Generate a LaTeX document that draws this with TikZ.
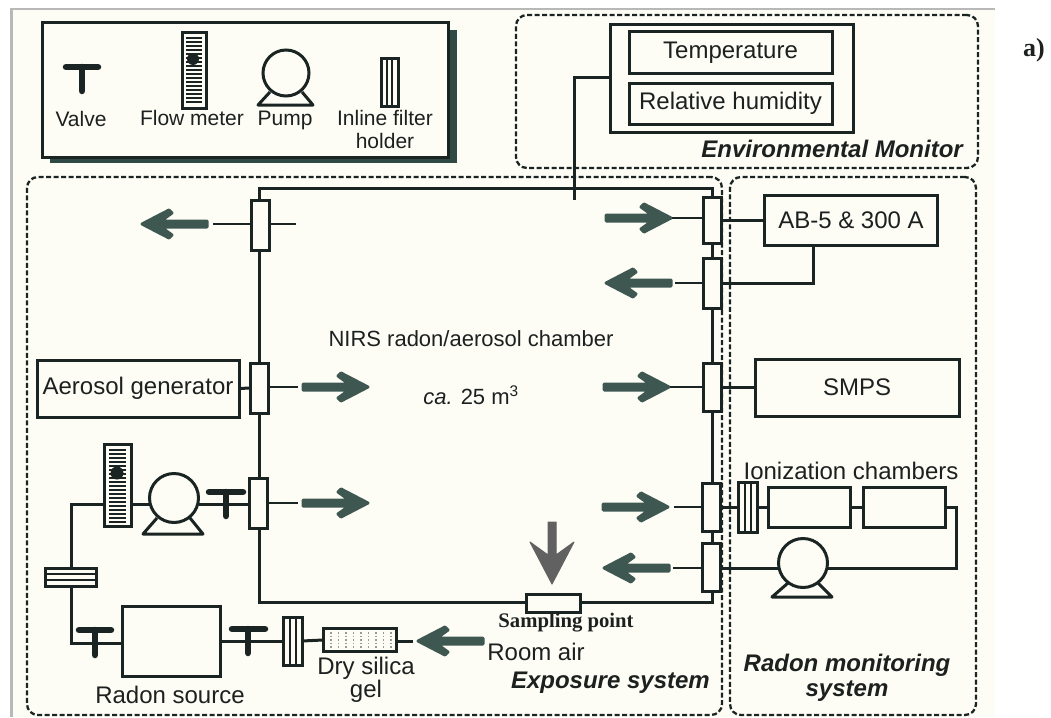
\documentclass[tikz,border=0pt]{standalone}
\usepackage{fontspec}
\setmainfont{Liberation Sans}
\newfontfamily\serifbold{Liberation Serif}[BoldFont={Liberation Serif Bold}]
\usetikzlibrary{calc}
\definecolor{ink}{HTML}{1A2422}
\definecolor{txt}{HTML}{1C201F}
\definecolor{paper}{HTML}{FDFDF6}
\definecolor{arrowc}{HTML}{3E5751}
\definecolor{shadowc}{HTML}{2F4A44}
\tikzset{
  pipe/.style={draw=ink,line width=3pt},
  thin pipe/.style={draw=ink,line width=2.6pt},
  boxn/.style={draw=ink,line width=3pt,fill=paper,inner sep=0pt,outer sep=0pt,text=txt,font=\fontsize{24}{28}\selectfont},
  filt/.style={boxn,minimum width=18pt,minimum height=48pt},
  group/.style={draw=ink,line width=2.3pt,dash pattern=on 5pt off 2.5pt,rounded corners=11pt,inner sep=0pt,outer sep=0pt},
  lab/.style={text=txt,inner sep=0pt,font=\fontsize{24}{27}\selectfont,align=center},
  leglab/.style={text=txt,inner sep=0pt,font=\fontsize{21}{23}\selectfont,align=center},
  sect/.style={text=txt,inner sep=0pt,font=\fontsize{24}{25}\selectfont\bfseries\itshape,align=center},
  valvet/.style={draw=ink,line width=6.5pt,line cap=round},
  pumpc/.style={circle,draw=ink,line width=3pt,fill=paper,minimum size=49pt,inner sep=0pt,outer sep=0pt},
  basetrap/.style={draw=ink,line width=3pt,line join=round},
  inner line/.style={draw=ink,line width=2pt},
  pics/flowarrow/.style={code={
    \fill[arrowc,draw=arrowc,line width=3pt,line join=round]
      (0,-3)--(46,-3)--(35,-11)--(38,-14)--(65,0)--(38,14)--(35,11)--(46,3)--(0,3)--cycle;
  }},
}
\begin{document}
\begin{tikzpicture}[x=1pt,y=-1pt]
\useasboundingbox (0,0) rectangle (1051,717);
\fill[white] (0,0) rectangle (1051,717);
\fill[paper] (10,8) rectangle (995,717);
\fill[black!28] (10,8) rectangle (995,10);
\fill[black!28] (10,8) rectangle (13,717);

% group outlines
\node[group,minimum width=462pt,minimum height=153pt] (envgroup) at (747,91.5) {};
\node[group,minimum width=695pt,minimum height=538pt] (expgroup) at (374.5,446) {};
\node[group,minimum width=246pt,minimum height=538pt] (radgroup) at (853,446) {};

% legend
\fill[shadowc] (50,155) rectangle (457,163);
\fill[shadowc] (446,30) rectangle (457,163);
\node[boxn,minimum width=406pt,minimum height=134pt] (legend) at (245,90) {};
\coordinate (lv1) at (66,67); \coordinate (lv2) at (98,67);
\coordinate (lv3) at (82,67); \coordinate (lv4) at (82,91);
\draw[valvet] (lv1)--(lv2); \draw[valvet] (lv3)--(lv4);
\node[boxn,minimum width=24pt,minimum height=75pt] (lmeter) at (194,70.5) {};
\foreach \yy in {38,42,...,104}{\draw[ink,line width=1.5pt] (186,\yy)--(202,\yy);}
\fill[ink] (193,59) circle (6pt);
\draw[basetrap] (270,92)--(258,105)--(313,105)--(302,92);
\node[pumpc,minimum size=46pt] (lpump) at (286,73) {};
\node[boxn,minimum width=17pt,minimum height=47pt] (lfilt) at (389.5,82.5) {};
\draw[inner line] ([xshift=-2.8pt]lfilt.north)--([xshift=-2.8pt]lfilt.south) ([xshift=2.8pt]lfilt.north)--([xshift=2.8pt]lfilt.south);
\node[leglab] (lt1) at (81,119) {Valve};
\node[leglab] (lt2) at (192,118) {Flow meter};
\node[leglab] (lt3) at (285,120) {Pump};
\node[leglab] (lt4) at (385,129) {Inline filter\\holder};

% environmental monitor
\node[boxn,minimum width=243pt,minimum height=107pt] (envbox) at (731.5,78.5) {};
\node[boxn,minimum width=203pt,minimum height=41pt] (temp) at (730.5,52.5) {Temperature};
\node[boxn,minimum width=203pt,minimum height=41pt] (rh) at (730.5,103.5) {Relative humidity};
\node[sect,anchor=east] (envlab) at (963,149) {Environmental Monitor};

% exposure system: chamber pipe
\node[filt,minimum height=50pt] (f1) at (260,225) {};
\node[filt,minimum height=50pt] (f2) at (259,388) {};
\node[filt,minimum height=50pt] (f3) at (258,503) {};
\node[filt,minimum height=46pt] (r1) at (712.5,220) {};
\node[filt,minimum height=50pt] (r2) at (712.5,283) {};
\node[filt] (r3) at (712.5,387.5) {};
\node[filt] (r4) at (711,507) {};
\node[filt] (r5) at (711,567) {};
\node[boxn,minimum width=54pt,minimum height=18pt] (samp) at (553,603) {};
\coordinate (ctl) at (259,188); \coordinate (ctr) at (712,188);
\coordinate (cbl) at (259,602); \coordinate (cbr) at (712,602);
\draw[pipe,line join=miter] (ctl |- f1.north)--(ctl)--(ctr)--(ctr |- r1.north);
\draw[pipe] (ctr |- r1.south)--(ctr |- r2.north);
\draw[pipe] (ctr |- r2.south)--(ctr |- r3.north);
\draw[pipe] (ctr |- r3.south)--(ctr |- r4.north);
\draw[pipe] (ctr |- r4.south)--(ctr |- r5.north);
\draw[pipe] (ctr |- r5.south)--(cbr)--(samp.east |- cbr);
\draw[pipe] (samp.west |- cbl)--(cbl)--(cbl |- f3.south);
\draw[pipe] (cbl |- f3.north)--(cbl |- f2.south);
\draw[pipe] (cbl |- f2.north)--(cbl |- f1.south);

% environmental probe
\coordinate (ep1) at (574,77); \coordinate (ep2) at (574,200);
\draw[pipe] (envbox.west |- ep1)--(ep1)--(ep2);

% arrows and stubs
\pic at (207,224) [rotate=180] {flowarrow};
\coordinate (s1a) at (213,224); \coordinate (s1b) at (296,224);
\draw[thin pipe] (s1a)--(f1.west |- s1a);
\draw[thin pipe] (f1.east |- s1b)--(s1b);
\pic at (303,387) {flowarrow};
\coordinate (s2) at (298,387);
\draw[thin pipe] (f2.east |- s2)--(s2);
\pic at (303,503) {flowarrow};
\coordinate (s3) at (298,503);
\draw[thin pipe] (f3.east |- s3)--(s3);
\pic at (606,218) {flowarrow};
\coordinate (s4) at (672,218);
\draw[thin pipe] (s4)--(r1.west |- s4);
\pic at (671,283) [rotate=180] {flowarrow};
\coordinate (s5) at (675,283);
\draw[thin pipe] (s5)--(r2.west |- s5);
\pic at (604,387) {flowarrow};
\coordinate (s6) at (670,387);
\draw[thin pipe] (s6)--(r3.west |- s6);
\pic at (603,507) {flowarrow};
\coordinate (s7) at (674,507);
\draw[thin pipe] (s7)--(r4.west |- s7);
\pic at (669,568) [rotate=180] {flowarrow};
\coordinate (s8) at (673,568);
\draw[thin pipe] (s8)--(r5.west |- s8);
\pic at (483,641) [rotate=180] {flowarrow};
% sampling arrow
\fill[black!62,draw=black!62,line width=1pt,line join=round]
  (548,522)--(556,522)--(556,555)--(574,542)--(552,584)--(530,542)--(548,555)--cycle;

% radon monitoring side
\node[boxn,minimum width=173pt,minimum height=50pt] (ab) at (851,220) {AB-5 \& 300 A};
\draw[pipe] (r1.east |- ab.west)--(ab.west);
\coordinate (abc) at (813,283);
\draw[pipe] (ab.south -| abc)--(abc)--(r2.east |- abc);
\node[boxn,minimum width=204pt,minimum height=57pt] (smps) at (857,387.5) {SMPS};
\draw[thin pipe] (r3.east |- smps.west)--(smps.west);
\node[boxn,minimum width=19pt,minimum height=50pt] (ifr) at (747.5,507) {};
\draw[inner line] ([xshift=-3pt]ifr.north)--([xshift=-3pt]ifr.south) ([xshift=3pt]ifr.north)--([xshift=3pt]ifr.south);
\node[boxn,minimum width=82pt,minimum height=40pt] (ic1) at (809,507) {};
\node[boxn,minimum width=82pt,minimum height=40pt] (ic2) at (904,507) {};
\draw[pipe] (r4.east)--(ifr.west);
\draw[pipe] (ifr.east)--(ic1.west);
\draw[pipe] (ic1.east)--(ic2.west);
\draw[basetrap] (788,583)--(772,597)--(832,597)--(818,583);
\node[pumpc] (rp) at (803,563) {};
\coordinate (rc1) at (956,507); \coordinate (rc2) at (956,568);
\draw[pipe] (ic2.east)--(rc1)--(rc2)--(rp.east |- rc2);
\draw[pipe] (rp.west |- rc2)--(r5.east |- rc2);
\node[lab] (iclab) at (851,471) {Ionization chambers};
\node[sect] (radlab) at (847,678) {Radon monitoring\\system};

% aerosol generator
\node[boxn,minimum width=202pt,minimum height=57pt] (aero) at (138,388.5) {Aerosol generator};
\draw[pipe] (aero.east)--(f2.west);

% radon loop
\node[boxn,minimum width=27pt,minimum height=82pt] (meter) at (117.5,485) {};
\foreach \yy in {450,454,...,522}{\draw[ink,line width=1.6pt] (109,\yy)--(126,\yy);}
\fill[ink] (117,473) circle (6.5pt);
\draw[basetrap] (157,518)--(143,534)--(203,534)--(190,518);
\node[pumpc] (pump) at (174,498) {};
\coordinate (vb1) at (209,492); \coordinate (vb2) at (243,492);
\coordinate (vs1) at (226,492); \coordinate (vs2) at (226,516);
\coordinate (lc1) at (71,504); \coordinate (lc2) at (71,643);
\node[boxn,minimum width=51pt,minimum height=18pt] (hf) at (70.5,577) {};
\draw[inner line] ([yshift=3pt]hf.west)--([yshift=3pt]hf.east) ([yshift=-3pt]hf.west)--([yshift=-3pt]hf.east);
\draw[pipe] (meter.west |- lc1)--(lc1)--(hf.north -| lc1);
\draw[pipe] (meter.east |- lc1)--(pump.west |- lc1);
\draw[pipe] (pump.east |- lc1)--(f3.west |- lc1);
\draw[valvet] (vb1)--(vb2); \draw[valvet] (vs1)--(vs2);
\node[boxn,minimum width=98pt,minimum height=70pt] (src) at (171,641) {};
\draw[pipe] (hf.south -| lc2)--(lc2)--(src.west |- lc2);
\coordinate (v2b1) at (79,630); \coordinate (v2b2) at (111,630);
\coordinate (v2s1) at (95,630); \coordinate (v2s2) at (95,655);
\draw[valvet] (v2b1)--(v2b2); \draw[valvet] (v2s1)--(v2s2);
\node[boxn,minimum width=19pt,minimum height=48pt] (if2) at (292.5,641) {};
\draw[inner line] ([xshift=-3pt]if2.north)--([xshift=-3pt]if2.south) ([xshift=3pt]if2.north)--([xshift=3pt]if2.south);
\draw[pipe] (src.east |- if2.west)--(if2.west);
\coordinate (v3b1) at (232,629); \coordinate (v3b2) at (265,629);
\coordinate (v3s1) at (248,629); \coordinate (v3s2) at (248,653);
\draw[valvet] (v3b1)--(v3b2); \draw[valvet] (v3s1)--(v3s2);
\node[boxn,minimum width=73pt,minimum height=23pt] (silica) at (359.5,640) {};
\foreach \xx in {331,338.5,...,392}{\draw[black!40,line width=1.4pt,dash pattern=on 1.5pt off 2pt] (\xx,632)--(\xx,648);}
\draw[pipe] (if2.east)--(silica.west);
\coordinate (sc) at (413,641);
\draw[pipe] (silica.east |- sc)--(sc);

% labels
\node[lab,font=\fontsize{22}{26}\selectfont] (nirs) at (471,339) {NIRS radon/aerosol chamber};
\node[lab,font=\fontsize{22}{26}\selectfont] (vol) at (471,395) {\textit{ca.} 25 m\textsuperscript{3}};
\node[lab,font=\fontsize{20.7}{24}\bfseries\serifbold\selectfont] (samplab) at (566,623) {Sampling point};
\node[lab] (room) at (536,652) {Room air};
\node[sect,anchor=east] (explab) at (710,683) {Exposure system};
\node[lab] (rs) at (170,695) {Radon source};
\node[lab,font=\fontsize{24}{23}\selectfont] (dsg) at (366,680) {Dry silica\\gel};
\node[lab,font=\fontsize{26}{28}\bfseries\serifbold\selectfont] (alab) at (1034,50) {a)};
\end{tikzpicture}
\end{document}
